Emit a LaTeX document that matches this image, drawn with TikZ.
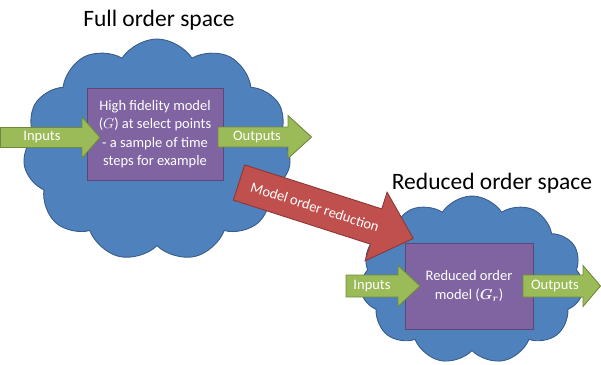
\documentclass[tikz,border=0pt]{standalone}
\usepackage{amsmath}
\usepackage{fontspec}
\setmainfont{Carlito}
\usetikzlibrary{shapes.symbols}
\definecolor{cloudfill}{HTML}{4F81BD}
\definecolor{clouddraw}{HTML}{385D8A}
\definecolor{boxfill}{HTML}{8064A2}
\definecolor{boxdraw}{HTML}{5C4776}
\definecolor{grfill}{HTML}{9BBB59}
\definecolor{grdraw}{HTML}{71893F}
\definecolor{redfill}{HTML}{C0504D}
\definecolor{reddraw}{HTML}{8C3836}
\tikzset{
  cloudbox/.style={cloud, cloud puffs=11, cloud puff arc=115, cloud ignores aspect,
    fill=cloudfill, draw=clouddraw, line width=0.9pt, inner sep=0pt},
  modelbox/.style={rectangle, fill=boxfill, draw=boxdraw, line width=0.9pt, inner sep=0pt},
  greenarrow/.style={fill=grfill, draw=grdraw, line width=0.9pt, line join=miter},
  redarrow/.style={fill=redfill, draw=reddraw, line width=0.9pt, line join=miter},
  title/.style={font=\fontsize{23.5}{28}\selectfont, text=black},
  wtext/.style={font=\fontsize{14.5}{18.5}\selectfont, text=white, align=center},
}
\begin{document}
\begin{tikzpicture}[x=1pt,y=-1pt]
\useasboundingbox (0,0) rectangle (601,364);
% titles
\node[title] (t1) at (159,20) {Full order space};
\node[title] (t2) at (492,183) {Reduced order space};
% clouds
\node[cloudbox, minimum width=268pt, minimum height=222pt] (c1) at (157,150) {};
\node[cloudbox, minimum width=224pt, minimum height=168pt] (c2) at (472,280) {};
% boxes
\node[modelbox, minimum width=136pt, minimum height=92pt] (b1) at (155,134) {};
\node[wtext] (b1t) at (b1.center) {High fidelity model\\($G$) at select points\\- a sample of time\\steps for example};
\node[modelbox, minimum width=128pt, minimum height=86pt] (b2) at (469,286) {};
\node[wtext] (b2t) at (b2.center) {Reduced order\\model ($\boldsymbol{G_r}$)};
% green arrows
\draw[greenarrow] (0.5,127.5) -- (82,127.5) -- (82,117) -- (100,137.5) -- (82,158) -- (82,147.5) -- (0.5,147.5) -- cycle;
\node[wtext] (in1) at (42,137.5) {Inputs};
\draw[greenarrow] (218,127) -- (288,127) -- (288,115.5) -- (311.5,137) -- (288,158.5) -- (288,147) -- (218,147) -- cycle;
\node[wtext] (out1) at (257,137) {Outputs};
\draw[greenarrow] (346,275) -- (398,275) -- (398,265.5) -- (420,286) -- (398,306.5) -- (398,297) -- (346,297) -- cycle;
\node[wtext] (in2) at (372,286) {Inputs};
\draw[greenarrow] (523,275) -- (583,275) -- (583,265.5) -- (600.5,286) -- (583,306.5) -- (583,297) -- (523,297) -- cycle;
\node[wtext] (out2) at (555,286) {Outputs};
% red arrow
\begin{scope}[shift={(239,182.5)}]
\pgftransformrotate{-17.8}
\draw[redarrow] (0,-18.5) -- (144,-18.5) -- (144,-36) -- (183,0) -- (144,36) -- (144,18.5) -- (0,18.5) -- cycle;
\end{scope}
\node[wtext, rotate=-17.8] (rt) at (315,207) {Model order reduction};
\end{tikzpicture}
\end{document}
